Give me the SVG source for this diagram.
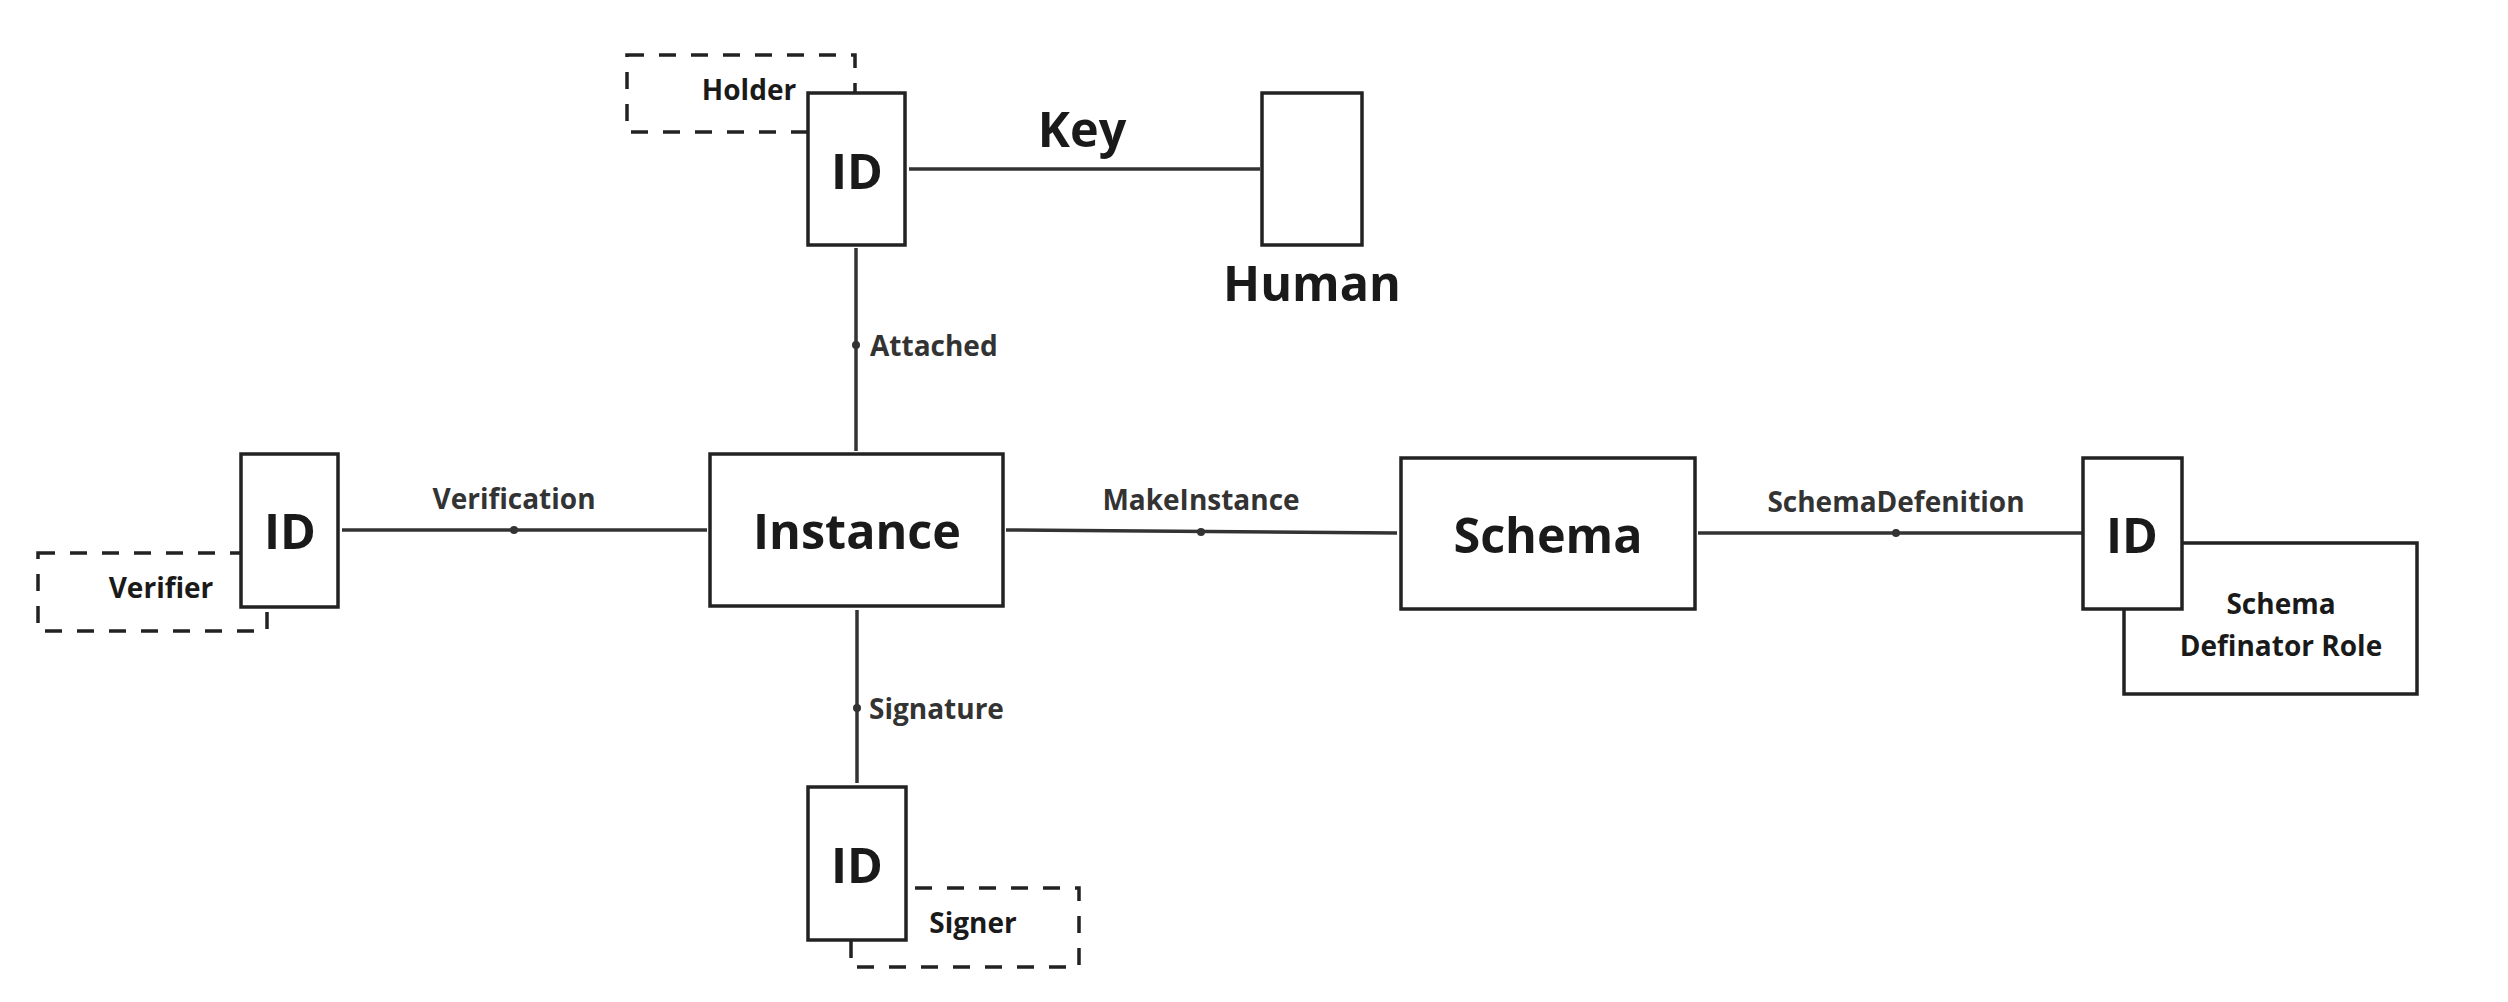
<svg xmlns="http://www.w3.org/2000/svg" width="2508" height="1002" viewBox="0 0 2508 1002">
<style>
.box{fill:#fff;stroke:#222;stroke-width:3.5}
.dash{fill:none;stroke:#222;stroke-width:3.5;stroke-dasharray:17 15}
.edge{fill:none;stroke:#333;stroke-width:3.5}
.dot{fill:#333}
.big{font-family:"Open Sans","Noto Sans","Liberation Sans",sans-serif;font-weight:700;font-size:48.5px;fill:#1a1a1a;text-anchor:middle}
.role{font-family:"Open Sans","Noto Sans","Liberation Sans",sans-serif;font-weight:700;font-size:28px;fill:#1a1a1a;text-anchor:middle}
.lbl{font-family:"Open Sans","Noto Sans","Liberation Sans",sans-serif;font-weight:700;font-size:28px;fill:#333}
.mid{text-anchor:middle}
</style>
<rect width="2508" height="1002" fill="#fff"/>
<g id="connectors">
<line class="edge" x1="909" y1="169" x2="1260" y2="169"/>
<line class="edge" x1="856" y1="248" x2="856" y2="451"/>
<circle class="dot" cx="856" cy="345" r="4"/>
<line class="edge" x1="342" y1="530" x2="707" y2="530"/>
<circle class="dot" cx="514" cy="530" r="4"/>
<line class="edge" x1="1006" y1="530" x2="1397" y2="533"/>
<circle class="dot" cx="1201" cy="532" r="4"/>
<line class="edge" x1="1698" y1="533" x2="2083" y2="533"/>
<circle class="dot" cx="1896" cy="533" r="4"/>
<line class="edge" x1="857" y1="610" x2="857" y2="783"/>
<circle class="dot" cx="857" cy="708" r="4"/>
<text class="big" x="1082" y="147">Key</text>
<text class="lbl" x="870" y="356">Attached</text>
<text class="lbl mid" x="514" y="509">Verification</text>
<text class="lbl mid" x="1201" y="510">MakeInstance</text>
<text class="lbl mid" x="1896" y="512">SchemaDefenition</text>
<text class="lbl" x="869" y="719">Signature</text>
</g>
<g id="holder">
<rect class="dash" x="627" y="55" width="228" height="77"/>
<text class="role" x="749" y="100">Holder</text>
</g>
<g id="id-holder">
<rect class="box" x="808" y="93" width="97" height="152"/>
<text class="big" x="857" y="189">ID</text>
</g>
<g id="human">
<rect class="box" x="1262" y="93" width="100" height="152"/>
<text class="big" x="1312" y="301">Human</text>
</g>
<g id="verifier">
<rect class="dash" x="38" y="553" width="229" height="78"/>
<text class="role" x="161" y="598">Verifier</text>
</g>
<g id="id-verifier">
<rect class="box" x="241" y="454" width="97" height="153"/>
<text class="big" x="290" y="549">ID</text>
</g>
<g id="instance">
<rect class="box" x="710" y="454" width="293" height="152"/>
<text class="big" x="857" y="549">Instance</text>
</g>
<g id="schema">
<rect class="box" x="1401" y="458" width="294" height="151"/>
<text class="big" x="1548" y="553">Schema</text>
</g>
<g id="schema-definator-role">
<rect class="box" x="2124" y="543" width="293" height="151"/>
<text class="role" x="2281" y="614">Schema</text>
<text class="role" x="2281" y="656">Definator Role</text>
</g>
<g id="id-schema">
<rect class="box" x="2083" y="458" width="99" height="151"/>
<text class="big" x="2132" y="553">ID</text>
</g>
<g id="signer">
<rect class="dash" x="851" y="888" width="228" height="79"/>
<text class="role" x="973" y="933">Signer</text>
</g>
<g id="id-signer">
<rect class="box" x="808" y="787" width="98" height="153"/>
<text class="big" x="857" y="883">ID</text>
</g>
</svg>
